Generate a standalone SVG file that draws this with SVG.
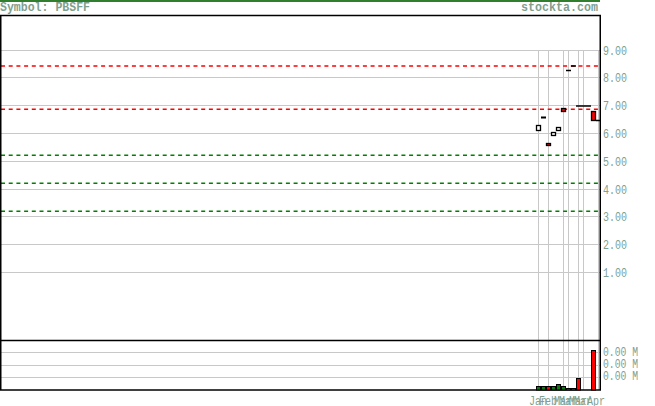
<svg xmlns="http://www.w3.org/2000/svg" width="655" height="406" viewBox="0 0 655 406">
<style>
.t{font-family:"Liberation Mono","DejaVu Sans Mono",monospace;fill:#7f9f8f}
.hd{font-size:12.5px;font-weight:bold}
.ax{font-size:12px}
.g{stroke:#c8c8c8;stroke-width:1;fill:none}
.fr{stroke:#000;stroke-width:1.5;fill:none}
.dr{stroke:#ff0000;stroke-width:1.5;stroke-dasharray:4 3.7;fill:none}
.dg{stroke:#008000;stroke-width:1.5;stroke-dasharray:4 3.7;fill:none}
.cw{fill:#fff;stroke:#000;stroke-width:1.3}
.cr{fill:#ff0000;stroke:#000;stroke-width:1.3}
.vg{fill:#0a7a0a;stroke:#000;stroke-width:1}
.vr{fill:#ff0000;stroke:#000;stroke-width:1}
.k{stroke:#000;stroke-width:1.3;fill:none}
</style>
<rect width="655" height="406" fill="#fff"/>
<g id="header">
<rect x="0" y="0" width="600" height="2" fill="#2f7f2f"/>
<text class="t hd" x="0" y="10.5" textLength="90" lengthAdjust="spacingAndGlyphs">Symbol: PBSFF</text>
<text class="t hd" x="598" y="10.5" text-anchor="end" textLength="77" lengthAdjust="spacingAndGlyphs">stockta.com</text>
</g>
<g id="grid">
<path class="g" d="M1 50.5H600M1 77.5H600M1 105.5H600M1 133.5H600M1 161.5H600M1 189.5H600M1 216.5H600M1 244.5H600M1 272.5H600"/>
<path class="g" d="M1 352.5H600M1 365.5H600M1 377.5H600"/>
<path class="g" d="M538.5 50V390M548.5 50V390M563.5 50V390M568.5 50V390M578.5 50V390M583.5 50V390M598.5 50V390"/>
</g>
<g id="levels">
<path class="dr" d="M1 66H600M1 109.3H600"/>
<path class="dg" d="M1 155.3H600M1 183.3H600M1 211.3H600"/>
</g>
<g id="frame">
<rect class="fr" x="0.75" y="15.5" width="599.5" height="374.5"/>
<path class="fr" d="M0.75 340.5H600"/>
</g>
<g id="candles">
<rect class="cw" x="536.5" y="125.5" width="4" height="5"/>
<rect x="541" y="116.5" width="5" height="2" fill="#000"/>
<rect class="cr" x="546.5" y="143.5" width="4" height="2"/>
<rect class="cw" x="551.5" y="132.5" width="4" height="3"/>
<rect class="cw" x="556.5" y="127.5" width="4" height="3"/>
<rect class="cr" x="561.5" y="108.5" width="4" height="3"/>
<path class="k" d="M566 70.5H571M571 66H576M576 106H591M596 120.5H600"/>
<rect class="cr" x="591.5" y="111.5" width="4" height="9"/>
</g>
<g id="volume">
<rect class="vg" x="536.5" y="386.5" width="4" height="3.5"/>
<rect class="vg" x="541.5" y="386.5" width="4" height="3.5"/>
<rect class="vr" x="546.5" y="386.5" width="4" height="3.5"/>
<rect class="vg" x="551.5" y="386.5" width="4" height="3.5"/>
<rect class="vg" x="556.5" y="384.5" width="4" height="5.5"/>
<rect class="vg" x="561.5" y="386.5" width="4" height="3.5"/>
<rect class="vg" x="566.5" y="388.5" width="4" height="1.5"/>
<rect class="vg" x="571.5" y="388.5" width="4" height="1.5"/>
<rect class="vr" x="576.5" y="378.5" width="4" height="11.5"/>
<rect class="vr" x="591.5" y="350.5" width="4" height="39.5"/>
</g>
<g id="price-axis">
<text class="t ax" x="603" y="54.5" textLength="24" lengthAdjust="spacingAndGlyphs">9.00</text>
<text class="t ax" x="603" y="81.5" textLength="24" lengthAdjust="spacingAndGlyphs">8.00</text>
<text class="t ax" x="603" y="109.5" textLength="24" lengthAdjust="spacingAndGlyphs">7.00</text>
<text class="t ax" x="603" y="137.5" textLength="24" lengthAdjust="spacingAndGlyphs">6.00</text>
<text class="t ax" x="603" y="165.5" textLength="24" lengthAdjust="spacingAndGlyphs">5.00</text>
<text class="t ax" x="603" y="193.5" textLength="24" lengthAdjust="spacingAndGlyphs">4.00</text>
<text class="t ax" x="603" y="220.5" textLength="24" lengthAdjust="spacingAndGlyphs">3.00</text>
<text class="t ax" x="603" y="248.5" textLength="24" lengthAdjust="spacingAndGlyphs">2.00</text>
<text class="t ax" x="603" y="276.5" textLength="24" lengthAdjust="spacingAndGlyphs">1.00</text>
</g>
<g id="volume-axis">
<text class="t ax" x="603" y="356" textLength="35" lengthAdjust="spacingAndGlyphs">0.00 M</text>
<text class="t ax" x="603" y="368" textLength="35" lengthAdjust="spacingAndGlyphs">0.00 M</text>
<text class="t ax" x="603" y="380" textLength="35" lengthAdjust="spacingAndGlyphs">0.00 M</text>
</g>
<g id="time-axis">
<text class="t ax" x="529" y="405" textLength="18" lengthAdjust="spacingAndGlyphs">Jan</text>
<text class="t ax" x="539" y="405" textLength="18" lengthAdjust="spacingAndGlyphs">Feb</text>
<text class="t ax" x="554" y="405" textLength="18" lengthAdjust="spacingAndGlyphs">Mar</text>
<text class="t ax" x="559" y="405" textLength="18" lengthAdjust="spacingAndGlyphs">Mar</text>
<text class="t ax" x="569" y="405" textLength="18" lengthAdjust="spacingAndGlyphs">Mar</text>
<text class="t ax" x="574" y="405" textLength="18" lengthAdjust="spacingAndGlyphs">Mar</text>
<text class="t ax" x="587" y="405" textLength="18" lengthAdjust="spacingAndGlyphs">Apr</text>
</g>
</svg>
